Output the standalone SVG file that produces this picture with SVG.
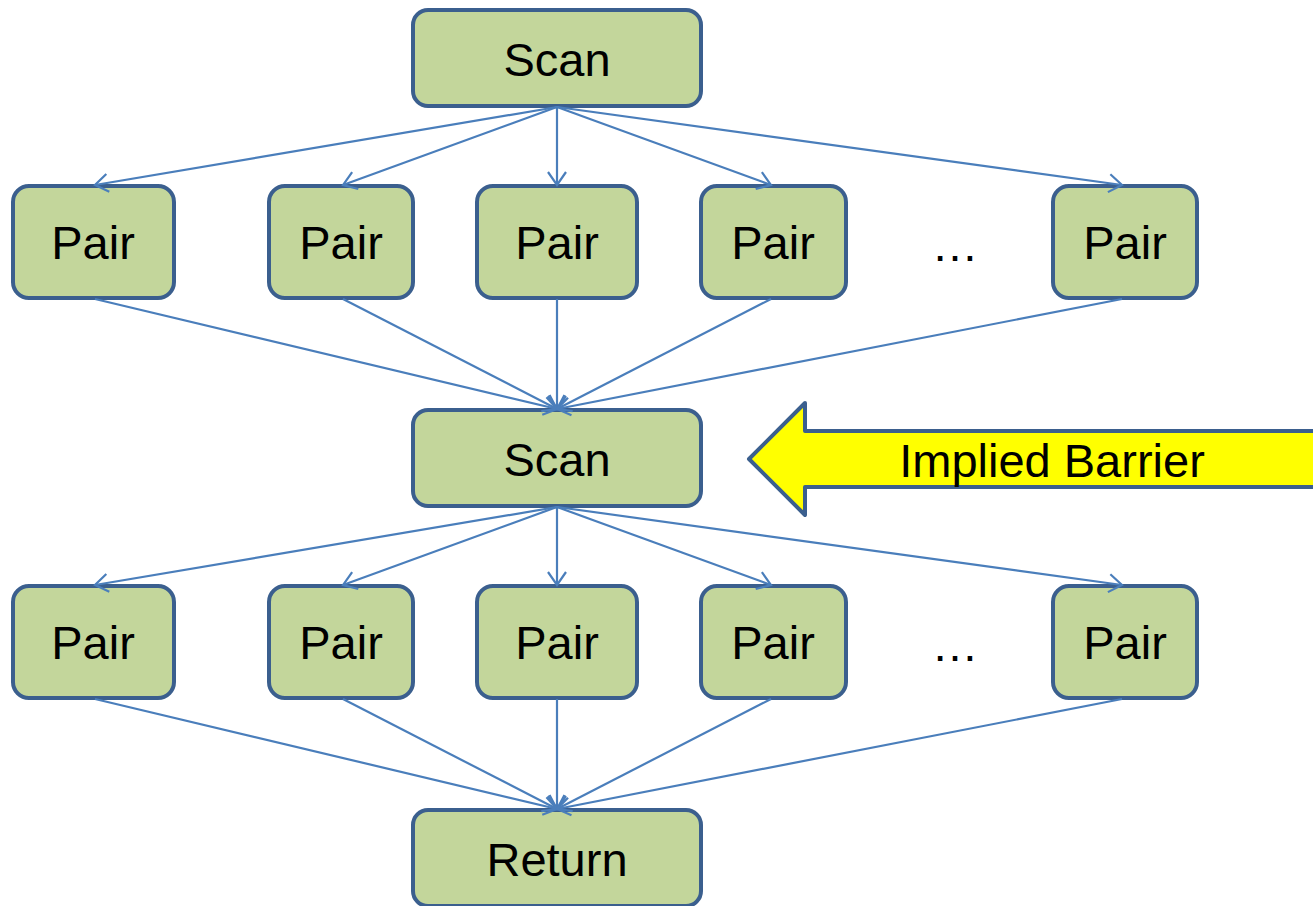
<svg xmlns="http://www.w3.org/2000/svg" width="1313" height="906" viewBox="0 0 1313 906">
  <style>
    .box { fill: #C3D69B; stroke: #3B5F8E; stroke-width: 4; }
    .lbl { font-family: "Liberation Sans", Arial, sans-serif; font-size: 47px; fill: #000; text-anchor: middle; }
    .edge { stroke: #4A7EBB; stroke-width: 2.2; fill: none; marker-end: url(#vee); }
  </style>
  <defs>
    <marker id="vee" markerUnits="userSpaceOnUse" markerWidth="30" markerHeight="30" refX="15" refY="15" orient="auto">
      <path d="M2,6 L15,15 L2,24" fill="none" stroke="#4A7EBB" stroke-width="2.2"/>
    </marker>
  </defs>

  <!-- nodes -->
  <g id="scan1"><rect class="box" x="413" y="10" width="288" height="96" rx="15"/><text class="lbl" x="557" y="76">Scan</text></g>

  <g id="pair1a"><rect class="box" x="13" y="186" width="161" height="112" rx="16"/><text class="lbl" x="93" y="259">Pair</text></g>
  <g id="pair1b"><rect class="box" x="269" y="186" width="144" height="112" rx="16"/><text class="lbl" x="341" y="259">Pair</text></g>
  <g id="pair1c"><rect class="box" x="477" y="186" width="160" height="112" rx="16"/><text class="lbl" x="557" y="259">Pair</text></g>
  <g id="pair1d"><rect class="box" x="701" y="186" width="145" height="112" rx="16"/><text class="lbl" x="773" y="259">Pair</text></g>
  <g id="dots1"><text class="lbl" x="955" y="261">…</text></g>
  <g id="pair1e"><rect class="box" x="1053" y="186" width="144" height="112" rx="16"/><text class="lbl" x="1125" y="259">Pair</text></g>

  <g id="scan2"><rect class="box" x="413" y="410" width="288" height="96" rx="15"/><text class="lbl" x="557" y="476">Scan</text></g>

  <g id="pair2a"><rect class="box" x="13" y="586" width="161" height="112" rx="16"/><text class="lbl" x="93" y="659">Pair</text></g>
  <g id="pair2b"><rect class="box" x="269" y="586" width="144" height="112" rx="16"/><text class="lbl" x="341" y="659">Pair</text></g>
  <g id="pair2c"><rect class="box" x="477" y="586" width="160" height="112" rx="16"/><text class="lbl" x="557" y="659">Pair</text></g>
  <g id="pair2d"><rect class="box" x="701" y="586" width="145" height="112" rx="16"/><text class="lbl" x="773" y="659">Pair</text></g>
  <g id="dots2"><text class="lbl" x="955" y="661">…</text></g>
  <g id="pair2e"><rect class="box" x="1053" y="586" width="144" height="112" rx="16"/><text class="lbl" x="1125" y="659">Pair</text></g>

  <g id="return"><rect class="box" x="413" y="810" width="288" height="96" rx="15"/><text class="lbl" x="557" y="876">Return</text></g>

  <!-- connectors, drawn over the node outlines -->
  <g id="edges">
    <line class="edge" x1="557" y1="107" x2="95" y2="185"/>
    <line class="edge" x1="557" y1="107" x2="343" y2="185"/>
    <line class="edge" x1="557" y1="107" x2="557" y2="185"/>
    <line class="edge" x1="557" y1="107" x2="771" y2="185"/>
    <line class="edge" x1="557" y1="107" x2="1122" y2="185"/>

    <line class="edge" x1="95" y1="299" x2="557" y2="409"/>
    <line class="edge" x1="343" y1="299" x2="557" y2="409"/>
    <line class="edge" x1="557" y1="299" x2="557" y2="409"/>
    <line class="edge" x1="771" y1="299" x2="557" y2="409"/>
    <line class="edge" x1="1122" y1="299" x2="557" y2="409"/>

    <line class="edge" x1="557" y1="507" x2="95" y2="585"/>
    <line class="edge" x1="557" y1="507" x2="343" y2="585"/>
    <line class="edge" x1="557" y1="507" x2="557" y2="585"/>
    <line class="edge" x1="557" y1="507" x2="771" y2="585"/>
    <line class="edge" x1="557" y1="507" x2="1122" y2="585"/>

    <line class="edge" x1="95" y1="699" x2="557" y2="809"/>
    <line class="edge" x1="343" y1="699" x2="557" y2="809"/>
    <line class="edge" x1="557" y1="699" x2="557" y2="809"/>
    <line class="edge" x1="771" y1="699" x2="557" y2="809"/>
    <line class="edge" x1="1122" y1="699" x2="557" y2="809"/>
  </g>

  <!-- barrier callout arrow -->
  <g id="barrier">
    <path d="M1320,431 L805,431 L805,403 L749,459 L805,515 L805,487 L1320,487 Z" fill="#FFFF00" stroke="#3B5F8E" stroke-width="4" stroke-linejoin="round"/>
    <text class="lbl" x="1052" y="477">Implied Barrier</text>
  </g>
</svg>
